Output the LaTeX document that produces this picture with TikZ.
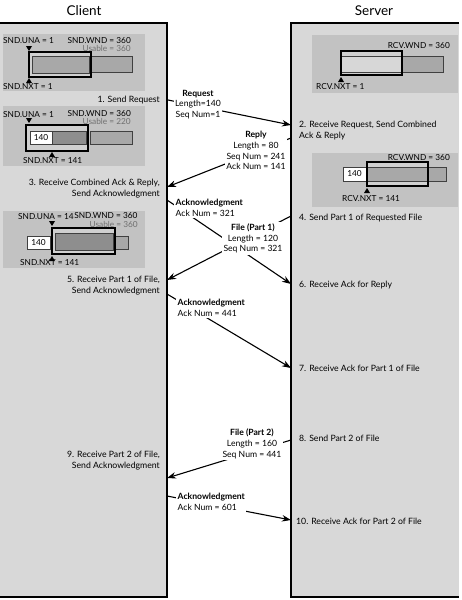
\documentclass[tikz,border=0pt]{standalone}
\usepackage{fontspec}
\setmainfont{Lato}
\usetikzlibrary{arrows.meta}
\definecolor{panelc}{HTML}{D8D8D8}
\definecolor{winbg}{HTML}{C2C2C2}
\definecolor{barmid}{HTML}{A8A8A8}
\definecolor{bardark}{HTML}{8E8E8E}
\definecolor{barlight}{HTML}{D0D0D0}
\definecolor{usablec}{HTML}{707070}
\begin{document}
\begin{tikzpicture}[x=1pt,y=-1pt,
  panelline/.style={line width=2pt},
  titlelbl/.style={font=\fontsize{13.5}{15}\selectfont, inner sep=0pt},
  steplbl/.style={font=\fontsize{8.7}{11}\selectfont, inner sep=0pt},
  msglbl/.style={font=\fontsize{8.6}{10.8}\selectfont, fill=white, inner sep=1.5pt},
  winlbl/.style={font=\fontsize{8.3}{8.5}\selectfont, inner sep=0pt},
  uslbl/.style={font=\fontsize{8.3}{8.5}\selectfont, inner sep=0pt, text=usablec},
  msgarrow/.style={line width=1.1pt, -{Stealth[length=9pt,width=6.5pt]}},
  winframe/.style={draw=black, line width=1.6pt},
  barseg/.style={draw=black!75, line width=0.5pt},
  seqbox/.style={draw=black!75, line width=0.5pt, fill=white},
]
\useasboundingbox (0,0) rectangle (462,600);
\fill[white] (0,0) rectangle (462,600);

% panels
\fill[panelc] (0,23) rectangle (167,597);
\fill[panelc] (291,23) rectangle (459,597);
\draw[panelline] (0,23) -- (167,23) -- (167,597) -- (0,597);
\draw[panelline] (459,23) -- (291,23) -- (291,597) -- (459,597);

\node[titlelbl] (tclient) at (84,11) {Client};
\node[titlelbl] (tserver) at (374,11) {Server};

% ---------- client window 1
\fill[winbg] (3,34) rectangle (145,91);
\fill[barlight] (29,52) rectangle (91,77);
\draw[barseg, fill=barmid] (32,56) rectangle (89,73);
\draw[barseg, fill=barmid] (91,56) rectangle (132,72);
\draw[winframe] (29,52) rectangle (91,77);
\fill (26,46) -- (32,46) -- (29,51) -- cycle;
\fill (26,83) -- (32,83) -- (29,78) -- cycle;
\node[winlbl, anchor=west] (c1una) at (3,41) {SND.UNA = 1};
\node[winlbl, anchor=east] (c1wnd) at (131,40.5) {SND.WND = 360};
\node[uslbl, anchor=east] (c1us) at (131,48) {Usable = 360};
\node[winlbl, anchor=west] (c1nxt) at (3,87) {SND.NXT = 1};

% ---------- client window 2
\fill[winbg] (3,106) rectangle (145,166);
\fill[barlight] (26,125) rectangle (88,151);
\draw[seqbox] (30,131) rectangle (52,144);
\draw[barseg, fill=bardark] (52,131) rectangle (86,144);
\draw[barseg, fill=barmid] (90,131) rectangle (132,144);
\draw[winframe] (26,125) rectangle (88,151);
\node[winlbl] (c2seq) at (41,137.5) {140};
\fill (26,118) -- (32,118) -- (29,123) -- cycle;
\fill (49,157) -- (55,157) -- (52,152) -- cycle;
\node[winlbl, anchor=west] (c2una) at (3,115) {SND.UNA = 1};
\node[winlbl, anchor=east] (c2wnd) at (131,113.5) {SND.WND = 360};
\node[uslbl, anchor=east] (c2us) at (131,121) {Usable = 220};
\node[winlbl, anchor=west] (c2nxt) at (23,161) {SND.NXT = 141};

% ---------- client window 3
\fill[winbg] (3,211) rectangle (145,268);
\draw[seqbox] (27,236) rectangle (50,249);
\fill[barlight] (52,228) rectangle (115,254);
\draw[barseg, fill=bardark] (55,233) rectangle (113,250);
\draw[barseg, fill=barmid] (115,236) rectangle (128,249);
\draw[winframe] (52,228) rectangle (115,254);
\node[winlbl] (c3seq) at (38.5,242.5) {140};
\fill (49,221) -- (55,221) -- (52,226) -- cycle;
\fill (49,261) -- (55,261) -- (52,256) -- cycle;
\node[winlbl, anchor=west] (c3una) at (18,217) {SND.UNA = 141};
\node[winlbl, anchor=east, fill=winbg, inner sep=0.3pt] (c3wnd) at (138,216) {SND.WND = 360};
\node[uslbl, anchor=east] (c3us) at (138,224) {Usable = 360};
\node[winlbl, anchor=west] (c3nxt) at (20,263) {SND.NXT = 141};

% ---------- server window 1
\fill[winbg] (312,35) rectangle (458,93);
\fill[barlight] (341,51) rectangle (402,75);
\draw[barseg, fill=barlight!85!white] (341,56) rectangle (402,72);
\draw[barseg, fill=barmid] (402,56) rectangle (443,72);
\draw[winframe] (341,51) rectangle (402,75);
\fill (338,82) -- (344,82) -- (341,77) -- cycle;
\node[winlbl, anchor=east] (s1wnd) at (450,46) {RCV.WND = 360};
\node[winlbl, anchor=west] (s1nxt) at (316,87) {RCV.NXT = 1};

% ---------- server window 2
\fill[winbg] (312,153) rectangle (458,207);
\draw[seqbox] (343,167) rectangle (366,181);
\fill[barlight] (367,162) rectangle (428,186);
\draw[barseg, fill=barmid] (367,167) rectangle (428,181);
\draw[barseg, fill=barmid] (428,167) rectangle (446,181);
\draw[winframe] (367,162) rectangle (428,186);
\node[winlbl] (s2seq) at (354.5,174) {140};
\fill (364,193) -- (370,193) -- (367,188) -- cycle;
\node[winlbl, anchor=east] (s2wnd) at (450,158) {RCV.WND = 360};
\node[winlbl, anchor=west] (s2nxt) at (342,199) {RCV.NXT = 141};

% ---------- step labels
\node[steplbl, anchor=east] (st1) at (160,100) {1. Send Request};
\node[steplbl, anchor=east, align=right] (st3) at (160,188.5) {3. Receive Combined Ack \& Reply,\\Send Acknowledgment};
\node[steplbl, anchor=east, align=right] (st5) at (160,286) {5. Receive Part 1 of File,\\Send Acknowledgment};
\node[steplbl, anchor=east, align=right] (st9) at (160,460.5) {9. Receive Part 2 of File,\\Send Acknowledgment};
\node[steplbl, anchor=west, align=left] (st2) at (299,131) {2. Receive Request, Send Combined\\Ack \& Reply};
\node[steplbl, anchor=west] (st4) at (299,218) {4. Send Part 1 of Requested File};
\node[steplbl, anchor=west] (st6) at (299,285) {6. Receive Ack for Reply};
\node[steplbl, anchor=west] (st7) at (299,368) {7. Receive Ack for Part 1 of File};
\node[steplbl, anchor=west] (st8) at (299,438) {8. Send Part 2 of File};
\node[steplbl, anchor=west] (st10) at (296,521) {10. Receive Ack for Part 2 of File};

% ---------- arrow end points
\coordinate (reqS) at (168,100);  \coordinate (reqE) at (291,125);
\coordinate (repS) at (291,138);  \coordinate (repE) at (167,187);
\coordinate (a1S) at (167,200);   \coordinate (a1E) at (291,284);
\coordinate (f1S) at (291,216);   \coordinate (f1E) at (167,280);
\coordinate (a2S) at (167,294);   \coordinate (a2E) at (291,368);
\coordinate (f2S) at (291,440);   \coordinate (f2E) at (167,478);
\coordinate (a3S) at (167,496);   \coordinate (a3E) at (291,520);

\draw[msgarrow] (reqS) -- (reqE);
\draw[msgarrow] (repS) -- (repE);
\draw[msgarrow] (a1S) -- (a1E);
\draw[msgarrow] (f1S) -- (f1E);
\draw[msgarrow] (a2S) -- (a2E);
\draw[msgarrow] (f2S) -- (f2E);
\draw[msgarrow] (a3S) -- (a3E);

% ---------- message labels
\node[msglbl, align=center] (mreq) at (198,104.5) {\textbf{Request}\\Length=140\\Seq Num=1};
\node[msglbl, align=center] (mrep) at (256,150.5) {\textbf{Reply}\\Length = 80\\Seq Num = 241\\Ack Num = 141};
\node[msglbl, align=left, anchor=west] (mack1) at (174,208) {\textbf{Acknowledgment}\\Ack Num = 321};
\node[msglbl, align=center] (mf1) at (253,238.5) {\textbf{File (Part 1)}\\Length = 120\\Seq Num = 321};
\node[msglbl, align=left, anchor=west] (mack2) at (176,307.5) {\textbf{Acknowledgment}\\Ack Num = 441};
\node[msglbl, align=center] (mf2) at (252,444) {\textbf{File (Part 2)}\\Length = 160\\Seq Num = 441};
\node[msglbl, align=left, anchor=west] (mack3) at (176,502) {\textbf{Acknowledgment}\\Ack Num = 601};
\end{tikzpicture}
\end{document}
